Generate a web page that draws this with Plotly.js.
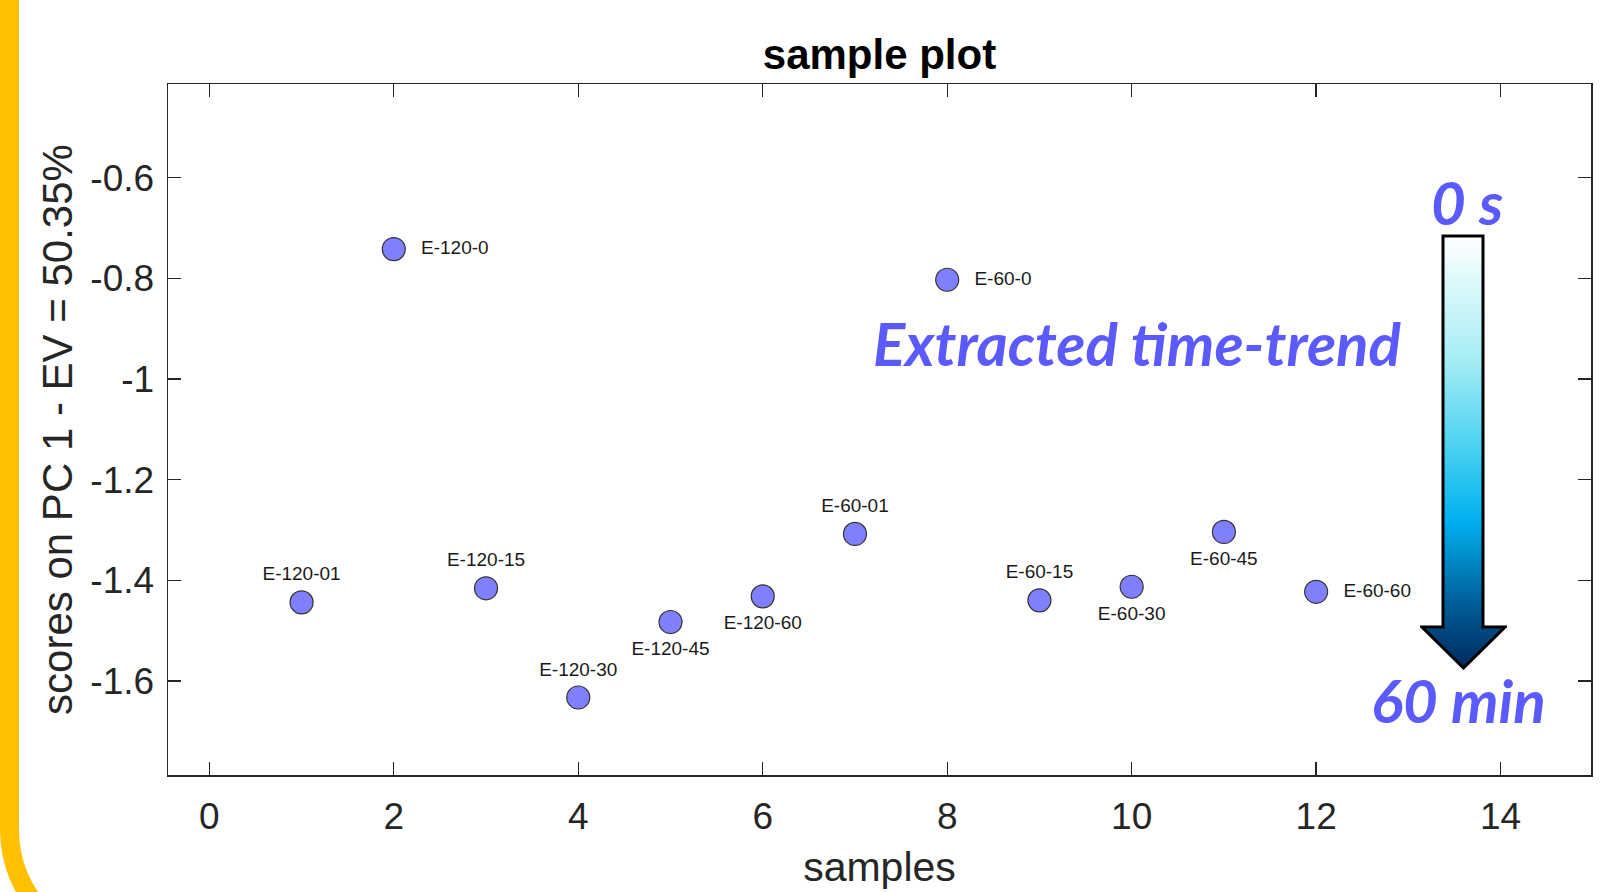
<!DOCTYPE html>
<html>
<head>
<meta charset="utf-8">
<script src="https://cdn.plot.ly/plotly-3.0.1.min.js"></script>
<style>
html,body{margin:0;padding:0;background:#ffffff;overflow:hidden;}
#chart{position:absolute;left:0;top:0;width:1621px;height:892px;}
#frame{position:absolute;left:0;top:-60px;width:2000px;height:1020px;border-left:19px solid #FFC000;border-bottom:19px solid #FFC000;border-bottom-left-radius:130px;box-sizing:border-box;pointer-events:none;z-index:2;}
</style>
</head>
<body>
<div id="chart"></div>
<div id="frame"></div>
<script>
// ---- data ----
const samples = [1, 2, 3, 4, 5, 6, 7, 8, 9, 10, 11, 12];
const scores = [-1.444, -0.742, -1.416, -1.633, -1.483, -1.432, -1.308, -0.803, -1.440, -1.413, -1.304, -1.423];
const sampleLabels = ["E-120-01", "E-120-0", "E-120-15", "E-120-30", "E-120-45", "E-120-60",
                      "E-60-01", "E-60-0", "E-60-15", "E-60-30", "E-60-45", "E-60-60"];
const labelPositions = ["top center", "middle right", "top center", "top center", "bottom center", "bottom center",
                        "top center", "middle right", "top center", "bottom center", "bottom center", "middle right"];
const xTickVals = [0, 2, 4, 6, 8, 10, 12, 14];
const yTickVals = [-1.6, -1.4, -1.2, -1.0, -0.8, -0.6];
const yTickText = ["-1.6", "-1.4", "-1.2", "-1", "-0.8", "-0.6"];
const chartTitle = "sample plot";
const xTitle = "samples";
const yTitle = "scores on PC 1 - EV = 50.35%";
const trendText = "Extracted time-trend";
const startText = "0 s";
const endText = "60 min";

// gradient arrow as an SVG image (decoration)
const arrowSvg =
  '<svg xmlns="http://www.w3.org/2000/svg" width="87" height="436" viewBox="0 0 87 436" preserveAspectRatio="none">' +
  '<defs><linearGradient id="g" x1="0" y1="0" x2="0" y2="1">' +
  '<stop offset="0" stop-color="#FFFFFF"/>' +
  '<stop offset="0.28" stop-color="#A8EEF5"/>' +
  '<stop offset="0.5" stop-color="#45D0F0"/>' +
  '<stop offset="0.66" stop-color="#00B0F0"/>' +
  '<stop offset="0.85" stop-color="#005E98"/>' +
  '<stop offset="1" stop-color="#002A60"/>' +
  '</linearGradient></defs>' +
  '<path d="M23 2 L63 2 L63 393 L85 393 L43.5 434 L2 393 L23 393 Z" fill="url(#g)" stroke="#000" stroke-width="3" stroke-linejoin="miter"/>' +
  '</svg>';
const arrowSrc = 'data:image/svg+xml;base64,' + btoa(arrowSvg);

const W = 1621, H = 892;
const mL = 168, mR = 30, mT = 84, mB = 117;
const pw = W - mL - mR, ph = H - mT - mB;
function px(x){ return (x - mL) / pw; }
function py(y){ return (H - mB - y) / ph; }

const axisFont = {family: 'Liberation Sans, Arial, sans-serif', size: 37, color: '#262626'};
const annFont = (s) => ({family: 'Lato, "Open Sans", sans-serif', size: s, color: '#5A5AFF', weight: 'bold', style: 'italic'});

const markerTrace = {
  x: samples, y: scores, mode: 'markers', type: 'scatter',
  marker: {size: 23, color: '#8080FF', line: {color: '#333333', width: 1.2}},
  cliponaxis: false, hoverinfo: 'skip'
};
// label trace: invisible spacer markers control the label distance from each point
const spacer = labelPositions.map(p => p.indexOf('right') >= 0 ? 42 : (p.indexOf('bottom') === 0 ? 28 : 26));
const labelTrace = {
  x: samples, y: scores, text: sampleLabels, textposition: labelPositions,
  mode: 'markers+text', type: 'scatter',
  marker: {size: spacer, opacity: 0, color: '#ffffff'},
  textfont: {family: 'Liberation Sans, Arial, sans-serif', size: 19, color: '#1a1a1a'},
  cliponaxis: false, hoverinfo: 'skip'
};

const layout = {
  width: W, height: H,
  margin: {l: mL, r: mR, t: mT, b: mB},
  paper_bgcolor: '#ffffff', plot_bgcolor: '#ffffff',
  showlegend: false,
  title: {text: '<b>' + chartTitle + '</b>', x: 0.5, xref: 'paper', xanchor: 'center', y: 1 - 54 / H, yanchor: 'middle',
          font: {family: 'Liberation Sans, Arial, sans-serif', size: 42, color: '#000000'}},
  xaxis: {
    range: [-0.448, 14.98], tickvals: xTickVals, ticks: 'inside', ticklen: 13, tickwidth: 1.3, tickcolor: '#262626',
    showline: true, linecolor: '#262626', linewidth: 1.5, mirror: 'ticks', showgrid: false, zeroline: false,
    tickfont: axisFont, ticklabelstandoff: 8,
    title: {text: xTitle, font: {family: 'Liberation Sans, Arial, sans-serif', size: 41, color: '#262626'}, standoff: 16}
  },
  yaxis: {
    range: [-1.787, -0.414], tickvals: yTickVals, ticktext: yTickText, ticks: 'inside', ticklen: 13, tickwidth: 1.3, tickcolor: '#262626',
    showline: true, linecolor: '#262626', linewidth: 1.5, mirror: 'ticks', showgrid: false, zeroline: false,
    tickfont: axisFont, ticklabelstandoff: 5,
    title: {text: yTitle, font: {family: 'Liberation Sans, Arial, sans-serif', size: 42, color: '#262626'}, standoff: 4}
  },
  images: [{
    source: arrowSrc, xref: 'paper', yref: 'paper',
    x: px(1420), y: py(234), sizex: (87) / pw, sizey: (436) / ph,
    xanchor: 'left', yanchor: 'top', sizing: 'stretch', layer: 'above'
  }],
  annotations: [
    {text: trendText, xref: 'paper', yref: 'paper', x: px(1137), y: py(343), xanchor: 'center', yanchor: 'middle', showarrow: false, font: annFont(60)},
    {text: startText, xref: 'paper', yref: 'paper', x: px(1467), y: py(202), xanchor: 'center', yanchor: 'middle', showarrow: false, font: annFont(60)},
    {text: endText, xref: 'paper', yref: 'paper', x: px(1458), y: py(700), xanchor: 'center', yanchor: 'middle', showarrow: false, font: annFont(60)}
  ]
};

Plotly.newPlot('chart', [markerTrace, labelTrace], layout, {displayModeBar: false, staticPlot: true});
</script>
</body>
</html>
